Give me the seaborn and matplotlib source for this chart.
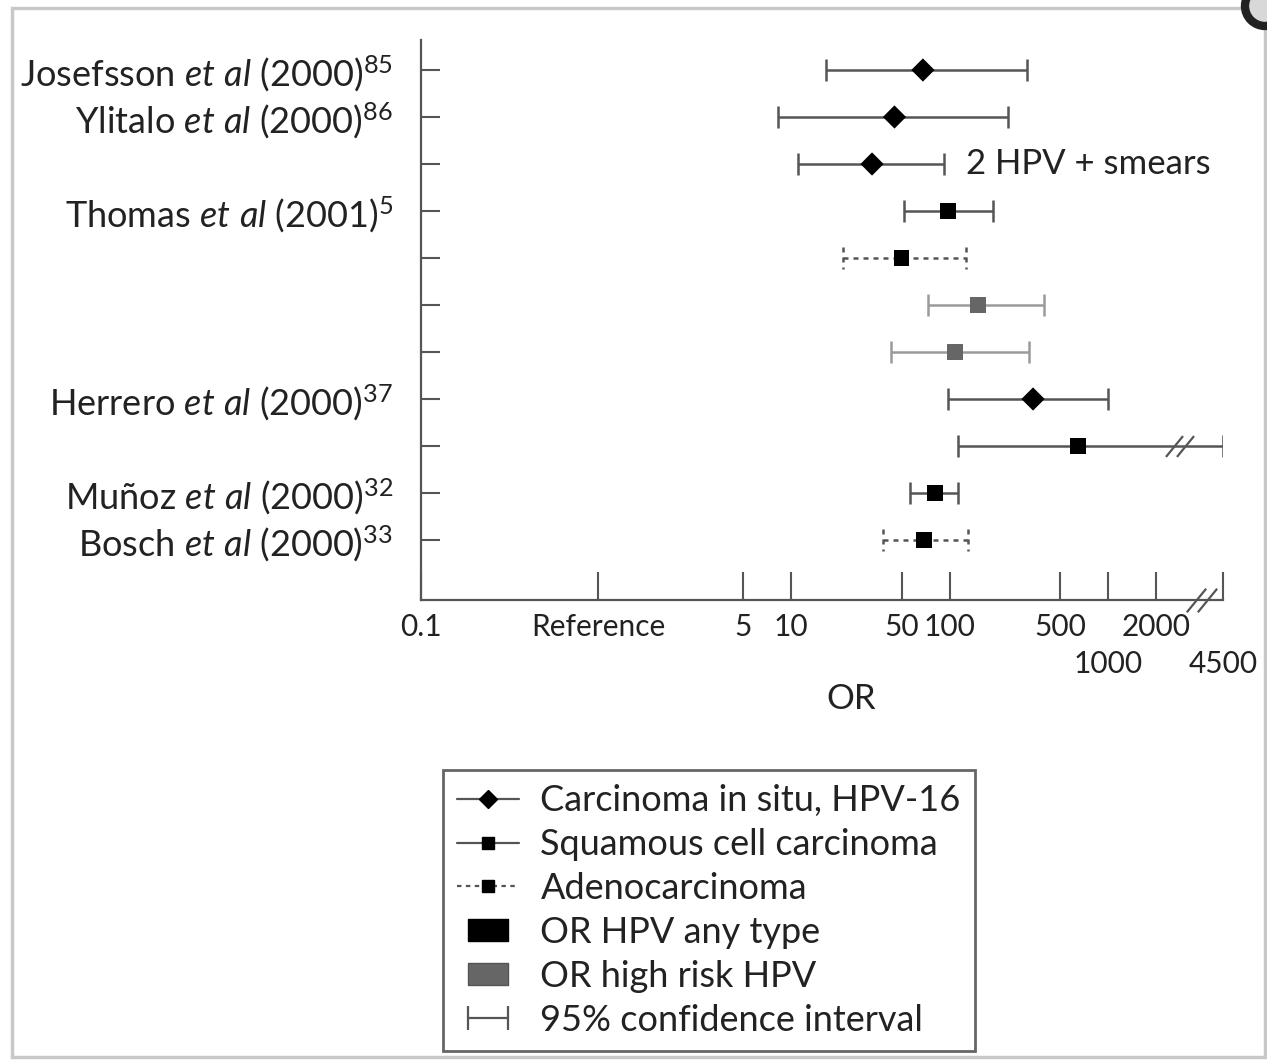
import numpy as np
import pandas as pd
import matplotlib
matplotlib.use("Agg")
import matplotlib.pyplot as plt
import matplotlib.transforms as mtransforms
from matplotlib.lines import Line2D
from matplotlib.legend_handler import HandlerLine2D
from matplotlib.patches import Rectangle, Circle
from matplotlib.path import Path
import seaborn as sns

# ── data ─────────────────────────────────────────────────────────────────────
STUDY_LABELS = [
    r"Josefsson $\mathit{et\ al}$ (2000)$^{85}$",
    r"Ylitalo $\mathit{et\ al}$ (2000)$^{86}$",
    "",
    r"Thomas $\mathit{et\ al}$ (2001)$^{5}$",
    "",
    "",
    "",
    r"Herrero $\mathit{et\ al}$ (2000)$^{37}$",
    "",
    r"Muñoz $\mathit{et\ al}$ (2000)$^{32}$",
    r"Bosch $\mathit{et\ al}$ (2000)$^{33}$",
]
OR_EST = [68, 45, 32.5, 98, 50, 151, 108, 336, 645, 81, 69]
CI_LOW = [16.7, 8.3, 11.1, 52, 21.3, 73, 42.8, 98, 113, 56, 38]
CI_HIGH = [308, 234, 92, 188, 127, 394, 317, 1000, 4500, 113, 131]
OUTCOME = ["cis", "cis", "cis", "scc", "adeno", "scc", "scc", "cis", "scc", "scc", "adeno"]
HPV_TYPE = ["any", "any", "any", "any", "any", "high", "high", "any", "any", "any", "any"]
NOTE_ROW, NOTE_TEXT = 2, "2 HPV + smears"

# upper row of tick labels, and the lower (staggered) row
X_TICKS = [0.1, 1, 5, 10, 50, 100, 500, 2000]
X_TICKLABELS = ["0.1", "Reference", "5", "10", "50", "100", "500", "2000"]
X_TICKS_LOW = [1000, 4500]
X_TICKLABELS_LOW = ["1000", "4500"]

LEGEND_LABELS = ["Carcinoma in situ, HPV-16", "Squamous cell carcinoma", "Adenocarcinoma",
                 "OR HPV any type", "OR high risk HPV", "95% confidence interval"]

df = pd.DataFrame({"row": np.arange(len(OR_EST)), "OR": OR_EST, "lo": CI_LOW,
                   "hi": CI_HIGH, "outcome": OUTCOME, "hpv": HPV_TYPE})

# ── style ────────────────────────────────────────────────────────────────────
sns.set_theme(style="white")
FONT = "Lato"
plt.rcParams["font.family"] = [FONT, "DejaVu Sans"]
plt.rcParams["mathtext.fontset"] = "custom"
plt.rcParams["mathtext.rm"] = FONT
plt.rcParams["mathtext.it"] = FONT + ":italic"
TXT = "#222222"
LINE = "#555555"
CI_COLOR = {"any": "#555555", "high": "#9a9a9a"}
CI_STYLE = {"cis": "-", "scc": "-", "adeno": (0, (2, 2))}
MARKERS = {"cis": "D", "scc": "s", "adeno": "s"}
PALETTE = {"any": "black", "high": "#666666"}

# piecewise log axis, as drawn in the original figure
LOG_KNOTS = [-5, -1, 0, np.log10(5), np.log10(2000), np.log10(4500), 8]
PX_KNOTS = [-287, 421, 598, 743, 1156, 1223, 2049]


def fwd(x):
    x = np.clip(np.asarray(x, dtype=float), 1e-9, None)
    return np.interp(np.log10(x), LOG_KNOTS, PX_KNOTS)


def inv(p):
    return 10 ** np.interp(np.asarray(p, dtype=float), PX_KNOTS, LOG_KNOTS)


W, H = 1267, 1060
fig = plt.figure(figsize=(W / 100, H / 100), dpi=100)
ax = fig.add_axes([421 / W, 1 - 600 / H, (1223 - 421) / W, 560 / H])
ax.set_xscale("function", functions=(fwd, inv))

# ── confidence intervals ─────────────────────────────────────────────────────
CAP = 0.24
for r in df.itertuples():
    c, ls = CI_COLOR[r.hpv], CI_STYLE[r.outcome]
    ax.hlines(r.row, r.lo, r.hi, colors=c, linestyles=ls, lw=1.8, zorder=2)
    ax.vlines([r.lo, r.hi], r.row - CAP, r.row + CAP, colors=c, linestyles=ls, lw=1.8, zorder=2)

# ── point estimates ──────────────────────────────────────────────────────────
for kind, sub in df.groupby("outcome"):
    sns.scatterplot(data=sub, x="OR", y="row", hue="hpv", palette=PALETTE,
                    marker=MARKERS[kind], s=140 if kind == "cis" else 125,
                    linewidth=0, legend=False, ax=ax, zorder=3)

r = df.loc[NOTE_ROW]
ax.annotate(NOTE_TEXT, xy=(r.hi, r.row), xytext=(16, 0), textcoords="offset points",
            ha="left", va="center", fontsize=25, color=TXT)

# axis-break marks
slash = Path([(-0.45, -0.55), (0.45, 0.55)], [Path.MOVETO, Path.LINETO])
brk = df[df.hi == max(CI_HIGH)].iloc[0]
for dx in (-49, -38):
    off = mtransforms.ScaledTranslation(dx / 100, 0, fig.dpi_scale_trans)
    ax.plot([brk.hi], [brk.row], ls="none", marker=slash, ms=15, mfc="none",
            mec=LINE, mew=1.6, transform=ax.transData + off, zorder=4)
for dx in (-27, -16):
    off = mtransforms.ScaledTranslation(dx / 100, 0, fig.dpi_scale_trans)
    ax.plot([max(X_TICKS_LOW)], [0], ls="none", marker=slash, ms=17, mfc="none",
            mec=LINE, mew=1.6, transform=ax.get_xaxis_transform() + off,
            clip_on=False, zorder=4)

# ── axes ─────────────────────────────────────────────────────────────────────
ax.set_xlim(min(X_TICKS), max(X_TICKS_LOW))
ax.set_ylim(len(OR_EST) - 1 + 60 / 47, -30 / 47)
ax.set_xticks(X_TICKS)
ax.set_xticklabels(X_TICKLABELS, fontsize=21.5, color=TXT)
ax.set_xticks(X_TICKS_LOW, minor=True)
ax.set_xticklabels(X_TICKLABELS_LOW, minor=True, fontsize=21.5, color=TXT)
ax.set_yticks(df.row)
ax.set_yticklabels(STUDY_LABELS, fontsize=26, color=TXT)
ax.tick_params(axis="x", which="major", direction="in", length=20, width=1.5,
               color=LINE, pad=9, bottom=True)
ax.tick_params(axis="x", which="minor", direction="in", length=20, width=1.5,
               color=LINE, pad=36, bottom=True)
ax.tick_params(axis="y", direction="in", length=14, width=1.5, color=LINE, pad=20, left=True)
for side in ("top", "right"):
    ax.spines[side].set_visible(False)
for side in ("left", "bottom"):
    ax.spines[side].set_color(LINE)
    ax.spines[side].set_linewidth(1.6)
ax.set_xlabel("OR", fontsize=25, color=TXT)
ax.xaxis.set_label_coords((851 - 421) / 802, -0.148)
ax.xaxis.label.set_va("top")
ax.set_ylabel("")

# ── legend ───────────────────────────────────────────────────────────────────
rect = [(-1, -0.55), (1, -0.55), (1, 0.55), (-1, 0.55), (-1, -0.55)]
h_ci = Line2D([], [], color=LINE, lw=1.6, marker="|", ms=17, mew=1.6)
handles = [
    Line2D([], [], color=LINE, lw=1.6, marker="D", ms=9, mfc="black", mec="black"),
    Line2D([], [], color=LINE, lw=1.6, marker="s", ms=8, mfc="black", mec="black"),
    Line2D([], [], color=LINE, lw=1.6, ls=(0, (2, 2)), marker="s", ms=8, mfc="black", mec="black"),
    Line2D([], [], ls="none", marker=rect, ms=29, mfc="black", mec="black"),
    Line2D([], [], ls="none", marker=rect, ms=29, mfc="#666666", mec="#555555"),
    h_ci,
]
leg = fig.legend(handles, LEGEND_LABELS, loc="upper left",
                 bbox_to_anchor=(443 / W, 1 - 770 / H), fontsize=26,
                 handlelength=1.7, handletextpad=0.6, labelspacing=0.3,
                 borderpad=0.4, borderaxespad=0, fancybox=False,
                 framealpha=1, edgecolor="#666666",
                 handler_map={h_ci: HandlerLine2D(numpoints=2)})
leg.get_frame().set_linewidth(2)
for t in leg.get_texts():
    t.set_color(TXT)

# page frame and stray ring from the scanned page
fig.patches.append(Rectangle((12 / W, 1 - 1057 / H), (1265 - 12) / W, (1057 - 8) / H,
                             transform=fig.transFigure, fill=False, ec="#c8c8c8", lw=2.5))
fig.patches.append(Circle((1265 / 100, (H - 6) / 100), 0.2, transform=fig.dpi_scale_trans,
                          fc="#d8d8d8", ec="#222222", lw=6))

plt.savefig("out.png", dpi=100)
